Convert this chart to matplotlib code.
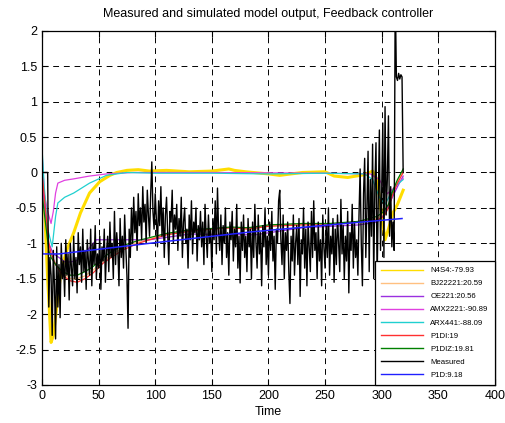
import matplotlib
matplotlib.use("Agg")
import matplotlib.pyplot as plt
from matplotlib.ticker import FormatStrFormatter, MultipleLocator

plt.rcParams["font.family"] = ["Liberation Sans", "DejaVu Sans"]

# model outputs: (time, value) knots
t_n4s4 = [0, 2, 5, 8, 10, 13, 16, 19, 23, 28, 34, 42, 51, 60, 66, 75, 85, 95, 110, 130,
          150, 165, 170, 180, 200, 210, 230, 250, 258, 270, 285, 292, 296, 300, 303, 306,
          310, 314, 319]
n4s4 = [-0.15, -0.4, -1.5, -2.4, -2.3, -1.9, -1.5, -1.25, -1.05, -0.85, -0.57, -0.29, -0.13,
        -0.04, 0.0, 0.03, 0.04, 0.02, 0.03, 0.01, 0.02, 0.05, 0.03, 0.01, -0.02, -0.04, 0.0,
        0.01, -0.05, -0.07, -0.03, 0.02, -0.1, -0.6, -0.95, -0.8, -0.57, -0.45, -0.25]

t_lower = [0, 3, 6, 8, 12, 18, 25, 31, 38, 45, 54, 63, 72, 85, 95, 110, 131, 150, 167, 182,
           200, 230, 254, 280, 296, 302, 306, 310, 314, 319]
bj22221 = [-0.1, -0.6, -1.05, -1.15, -1.3, -1.42, -1.5, -1.5, -1.46, -1.38, -1.25, -1.15,
           -1.06, -0.98, -0.94, -0.87, -0.82, -0.8, -0.78, -0.79, -0.75, -0.73, -0.73, -0.7,
           -0.65, -0.58, -0.48, -0.28, -0.12, 0.02]
p1di = [0.0, -0.5, -1.0, -1.14, -1.3, -1.45, -1.53, -1.55, -1.5, -1.42, -1.28, -1.18, -1.09,
        -1.0, -0.95, -0.88, -0.83, -0.8, -0.78, -0.8, -0.76, -0.74, -0.74, -0.7, -0.67, -0.62,
        -0.5, -0.3, -0.15, 0.0]
p1diz = [-0.3, -0.7, -1.1, -1.2, -1.3, -1.4, -1.45, -1.45, -1.4, -1.33, -1.2, -1.1, -1.03,
         -0.96, -0.92, -0.86, -0.81, -0.79, -0.77, -0.78, -0.74, -0.72, -0.72, -0.69, -0.62,
         -0.55, -0.45, -0.25, -0.1, 0.05]

t_oe = [0, 3, 6, 10, 15, 21, 30, 40, 48, 95, 130, 188, 230, 280, 296, 302, 308, 314, 319]
oe221 = [-0.1, -0.6, -1.0, -1.15, -1.2, -1.27, -1.25, -1.1, -0.95, -0.95, -0.87, -0.88,
         -0.78, -0.74, -0.7, -0.6, -0.4, -0.2, -0.05]

t_amx = [0, 2, 5, 8, 10, 12, 14, 20, 28, 42, 57, 80, 150, 250, 290, 298, 305, 312, 319]
amx2221 = [0.3, -0.3, -0.55, -0.72, -0.55, -0.29, -0.15, -0.11, -0.09, -0.05, -0.02, 0.0,
           0.0, -0.01, -0.02, -0.1, -0.3, -0.2, -0.08]

t_arx = [0, 2, 5, 9, 12, 14, 20, 28, 42, 57, 75, 100, 150, 200, 250, 285, 292, 298, 303,
         308, 313, 319]
arx441 = [0.35, -0.2, -0.8, -1.05, -0.62, -0.43, -0.35, -0.29, -0.15, -0.04, 0.0, -0.01,
          -0.01, -0.02, -0.01, -0.02, -0.1, -0.35, -0.45, -0.3, -0.18, -0.1]

t_p1d = [0, 0.5, 15, 95, 184, 254, 318]
p1d = [0.0, -1.15, -1.15, -1.0, -0.84, -0.74, -0.65]

# measured output, one sample per time unit (t = 0..319)
measured = [
    0, 0, 0, 0, 0, 0, -1.9, -1.2, -1.45, -2.3, -1.1, -1.6, -2.35, -1.05, -1.9, -1.3, -2.05, -1.0, -1.5, -1.25,
    -1.75, -0.95, -1.45, -1.15, -1.8, -1.0, -1.35, -1.6, -0.9, -1.5, -1.2, -1.7, -0.85, -1.3, -1.05, -1.55, -0.8, -1.4, -1.1, -1.65,
    -0.95, -1.25, -1.45, -0.8, -1.6, -1.0, -1.3, -0.75, -1.5, -1.15, -1.35, -0.9, -1.65, -1.05, -1.25, -0.8, -1.55, -1.1, -0.9, -1.4,
    -0.7, -1.2, -1.0, -1.5, -0.55, -1.3, -0.85, -1.1, -1.6, -0.65, -1.2, -0.9, -1.35, -0.6, -1.05, -1.45, -2.2, -0.8, -1.2, -0.5,
    -1.0, -0.35, -0.85, -0.55, -1.1, -0.3, -0.75, -0.5, -0.95, -0.2, -0.7, -0.45, -1.0, -0.25, -0.6, -0.9, -0.3, 0.15, -0.55, -0.8,
    -0.3, -0.65, -1.05, -0.4, -0.75, -0.2, -0.9, -0.5, -1.2, -0.6, -0.35, -0.85, -1.3, -0.55, -0.7, -0.25, -1.0, -0.6, -0.8, -0.45,
    -1.1, -0.65, -0.9, -0.35, -1.2, -0.7, -0.5, -1.0, -0.8, -1.35, -0.6, -0.95, -0.4, -1.15, -0.7, -0.85, -0.5, -1.25, -0.75, -0.95,
    -0.55, -1.05, -0.7, -1.3, -0.45, -0.9, -1.2, -0.6, -1.0, -0.8, -1.4, -0.65, -0.95, -0.4, -1.15, -0.22, -0.85, -1.1, -0.6, -1.3,
    -0.75, -1.0, -0.5, -1.2, -0.85, -1.45, -0.7, -0.95, -0.55, -1.25, -0.8, -1.05, -0.45, -1.35, -0.9, -1.56, -0.7, -1.1, -0.6, -1.2,
    -0.9, -1.4, -0.65, -1.05, -0.8, -1.5, -0.7, -1.2, -0.45, -1.0, -1.35, -0.6, -1.15, -0.85, -1.6, -0.75, -1.05, -0.5, -1.3, -0.9,
    -1.45, -0.7, -1.1, -0.55, -1.25, -0.9, -1.65, -0.8, -1.0, -0.4, -0.25, -0.95, -1.3, -0.6, -1.5, -0.85, -1.1, -0.7, -1.4, -1.85,
    -0.9, -1.25, -0.6, -1.45, -1.0, -0.75, -1.3, -0.65, -1.75, -0.95, -1.15, -0.5, -1.35, -0.8, -1.6, -0.7, -1.05, -1.4, -0.55, -1.2,
    -0.4, -1.1, -0.85, -1.5, -0.7, -1.25, -0.95, -1.6, -0.6, -1.05, -1.35, -0.75, -1.2, -0.5, -1.45, -0.9, -1.15, -0.65, -1.55, -0.8,
    -1.3, -0.6, -1.0, -1.4, -0.38, -1.15, -0.75, -1.5, -0.9, -1.25, -0.55, -1.7, -0.85, -1.1, -0.45, -1.35, -0.7, -1.2, -0.95, -1.45,
    -0.6, 0.05, -1.0, -1.6, -0.3, 0.2, -1.2, -0.5, 0.3, -1.4, -0.1, -0.9, 0.4, -1.5, -0.2, 0.42, -1.52, -0.4, 0.6, -1.1,
    -0.3, 0.7, -1.2, 0.93, -0.6, -0.1, 0.8, -0.9, -0.2, -1.05, -0.7, -1.1, 2.6, 1.35, 1.3, 1.4, 1.32, 1.38, 1.35, 0.0,
]
t_meas = list(range(len(measured)))

fig = plt.figure(figsize=(5.06, 4.23), dpi=100)
ax = fig.add_axes([0.083, 0.090, 0.895, 0.837])

ax.plot(t_n4s4, n4s4, color="#ffdd00", lw=2.2, label="N4S4:-79.93")
ax.plot(t_lower, bj22221, color="#ffc080", lw=0.9, label="BJ22221:20.59")
ax.plot(t_oe, oe221, color="#9a30e0", lw=0.9, label="OE221:20.56")
ax.plot(t_amx, amx2221, color="#e040e0", lw=0.9, label="AMX2221:-90.89")
ax.plot(t_arx, arx441, color="#20d0d0", lw=0.9, label="ARX441:-88.09")
ax.plot(t_lower, p1di, color="#ff3030", lw=0.9, label="P1DI:19")
ax.plot(t_lower, p1diz, color="#008000", lw=0.9, label="P1DIZ:19.81")
ax.plot(t_meas, measured, color="black", lw=1.0, label="Measured")
ax.plot(t_p1d, p1d, color="#2020ff", lw=1.1, label="P1D:9.18")

ax.set_xlim(0, 400)
ax.set_ylim(-3, 2)
ax.xaxis.set_major_locator(MultipleLocator(50))
ax.yaxis.set_major_locator(MultipleLocator(0.5))
ax.yaxis.set_major_formatter(FormatStrFormatter("%g"))
ax.tick_params(direction="in", labelsize=9, top=True, right=True, length=4, width=0.8)
ax.grid(True, color="black", lw=0.7, linestyle=(0, (6, 5)))
for s in ax.spines.values():
    s.set_linewidth(0.9)

ax.set_title("Measured and simulated model output, Feedback controller", fontsize=9, pad=10)
ax.set_xlabel("Time", fontsize=9, labelpad=3)

leg = ax.legend(loc="lower right", bbox_to_anchor=(1.0, 0.0), borderaxespad=0.0,
                fontsize=5.6, frameon=True, fancybox=False, handlelength=5.4,
                labelspacing=0.72, borderpad=0.8, handletextpad=0.9)
leg.get_frame().set_edgecolor("black")
leg.get_frame().set_linewidth(0.9)
leg.get_frame().set_alpha(1.0)
for h in leg.get_lines():
    h.set_linewidth(1.0)

fig.savefig("out.png", dpi=100)
